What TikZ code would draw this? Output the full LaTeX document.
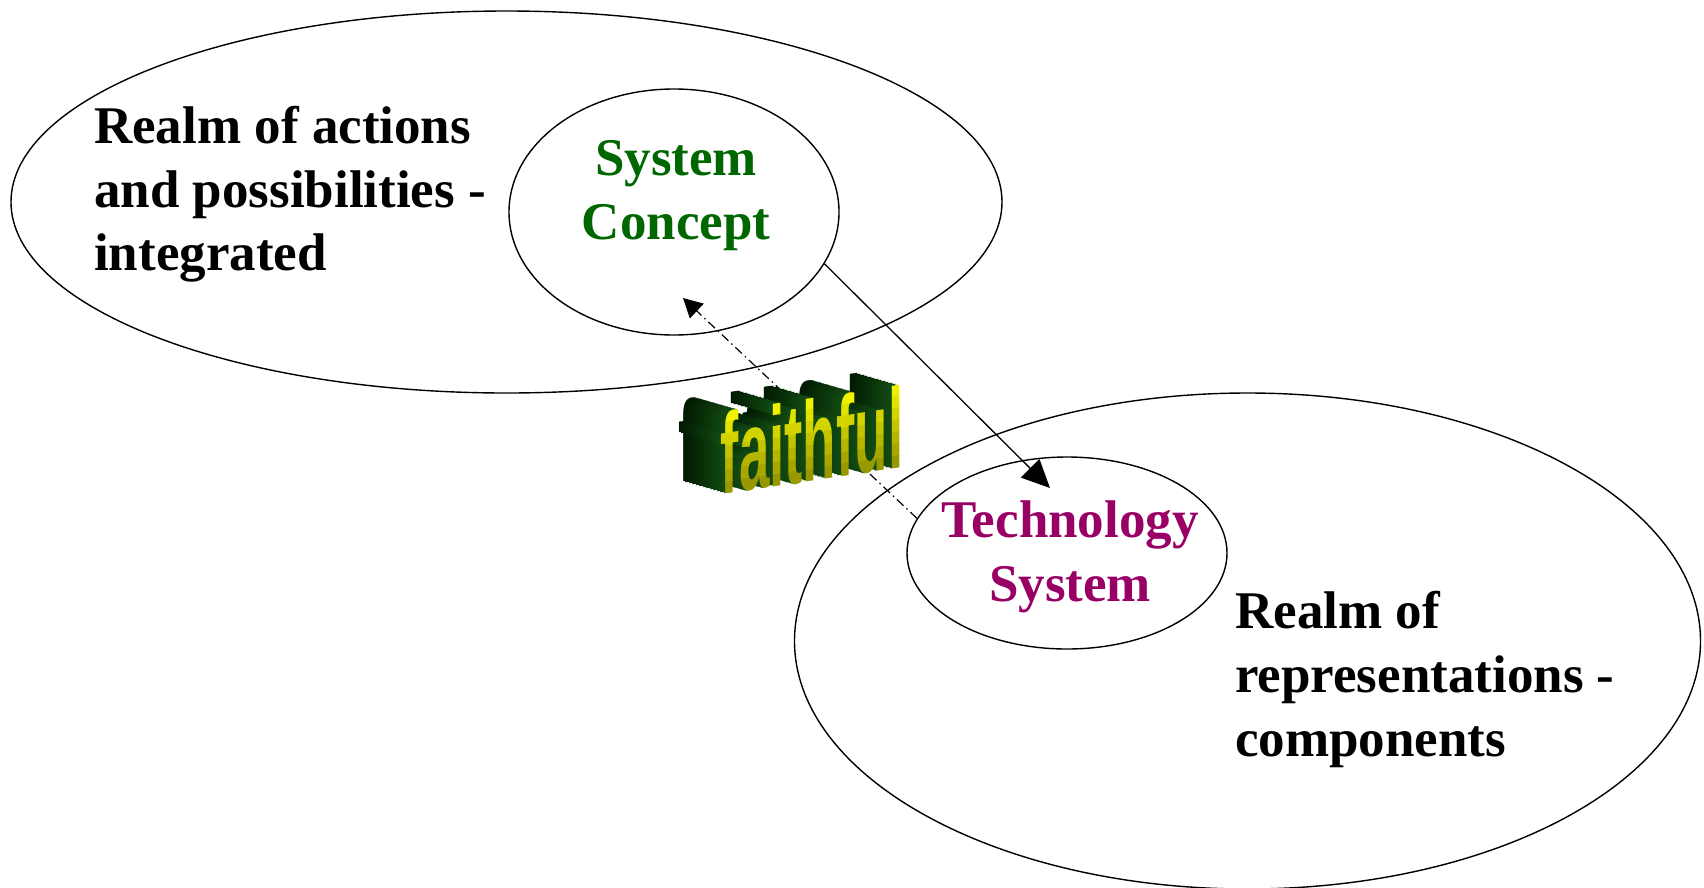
\documentclass[tikz,border=0pt]{standalone}
\usepackage{fontspec}
\setmainfont{Liberation Serif}
\newfontfamily\artfont{Liberation Sans}
\usetikzlibrary{arrows.meta,shapes.geometric}
\definecolor{conceptgreen}{HTML}{006600}
\definecolor{techpurple}{HTML}{990066}
\definecolor{extrudedark}{HTML}{001800}
\definecolor{extrudelight}{HTML}{134C13}
\definecolor{faceyellow}{HTML}{FFFF00}
\definecolor{faceolive}{HTML}{8E8E00}
\begin{document}
\begin{tikzpicture}[x=1pt,y=-1pt,
  realm/.style={draw=black, line width=1.4pt, ellipse, inner sep=0pt, fill=none},
  bigtext/.style={font=\bfseries\fontsize{53}{61}\selectfont, inner sep=0pt},
  linetext/.style={bigtext, anchor=base west},
  centertext/.style={bigtext, anchor=base},
  arttext/.style={transform shape, xscale=0.48, anchor=base, inner sep=0pt,
    font=\artfont\bfseries\fontsize{114}{114}\selectfont},
  link/.style={line width=1.3pt},
  dashdot link/.style={line width=1.2pt, dash pattern=on 9pt off 4pt on 1.5pt off 4pt}
]
\useasboundingbox (0,0) rectangle (1704,887);

% the two realms and the elements inside them
\node[realm, minimum width=991pt, minimum height=382pt] (actions) at (506.5,202) {};
\node[realm, minimum width=330pt, minimum height=246pt] (concept) at (674,212) {};
\node[realm, minimum width=906pt, minimum height=496pt] (reps) at (1247.5,641) {};
\node[realm, minimum width=320pt, minimum height=192pt] (tech) at (1067,553) {};

% labels of the realm of actions
\node[linetext] (actA) at (94,143) {Realm of actions};
\node[linetext] (actB) at (94,207) {and possibilities -};
\node[linetext] (actC) at (94,270) {integrated};

% labels of the realm of representations
\node[linetext] (repA) at (1235,628) {Realm of};
\node[linetext] (repB) at (1235,692) {representations -};
\node[linetext] (repC) at (1235,756) {components};

% system concept and technology system
\node[centertext, text=conceptgreen] (conA) at (676,175) {System};
\node[centertext, text=conceptgreen] (conB) at (676,239) {Concept};
\node[centertext, text=techpurple] (techA) at (1070,537) {Technology};
\node[centertext, text=techpurple] (techB) at (1070,601) {System};

% connectors
\coordinate (techtip) at (1050,488);
\coordinate (concepttip) at (683,298);
\draw[link, -{Triangle[length=28pt,width=26pt]}] (concept.-19) -- (techtip);
\draw[dashdot link, -{Triangle[length=19pt,width=20pt]}] (tech.167) -- (concepttip);

% extruded "faithful" lettering: dark green depth layers, then a yellow face
\begin{scope}[shift={(812,481)}, yslant=0.15]
  \foreach \k in {24,...,1}{
    \pgfmathsetmacro{\mixv}{100-\k*4}
    \node[arttext, text=extrudelight!\mixv!extrudedark] at (-\k*1.75,-\k*0.76) {faithful};
  }
  \foreach \i in {0,...,7}{
    \pgfmathsetmacro{\ya}{-97+\i*12}
    \pgfmathsetmacro{\yb}{\ifnum\i=7 12\else -97+\i*12+12.5\fi}
    \pgfmathsetmacro{\mixf}{100-\i*13}
    \begin{scope}
      \clip (-130,\ya) rectangle (130,\yb);
      \node[arttext, text=faceyellow!\mixf!faceolive] at (0,0) {faithful};
    \end{scope}
  }
\end{scope}
\end{tikzpicture}
\end{document}
